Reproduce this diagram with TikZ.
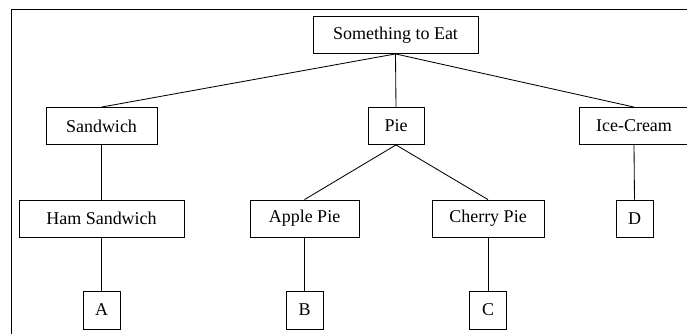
\documentclass[tikz,border=0pt]{standalone}
\usepackage{fontspec}
\setmainfont{Liberation Serif}
\newfontfamily\itemfont{Liberation Serif}
\tikzset{
    item/.style={draw, line width=0.6pt, minimum height=0.925cm, inner sep=0pt,
        font=\itemfont\fontsize{12.8}{15}\selectfont},
    link/.style={line width=0.6pt}
}
\begin{document}
\begin{tikzpicture}
    \useasboundingbox (0,0) rectangle (17.175,-8.35);
    \draw [line width=0.6pt] (17.6,-0.2375) -- (0.275,-0.2375) -- (0.275,-8.8);

    \node [item, minimum width=4.125cm] (eat) at (9.8875,-0.875) {Something to Eat};
    \node [item, minimum width=2.775cm] (sandwich) at (2.5375,-3.15) {Sandwich};
    \node [item, minimum width=1.4cm] (pie) at (9.9,-3.15) {Pie};
    \node [item, minimum width=2.75cm] (icecream) at (15.85,-3.15) {Ice-Cream};
    \node [item, minimum width=4.125cm] (ham) at (2.5375,-5.4625) {Ham Sandwich};
    \node [item, minimum width=2.725cm] (apple) at (7.6125,-5.4625) {Apple Pie};
    \node [item, minimum width=2.8cm] (cherry) at (12.2,-5.4625) {Cherry Pie};
    \node [item, minimum width=0.925cm] (d) at (15.8625,-5.4625) {D};
    \node [item, minimum width=0.925cm, minimum height=0.95cm] (a) at (2.5375,-7.75) {A};
    \node [item, minimum width=0.925cm, minimum height=0.95cm] (b) at (7.6125,-7.75) {B};
    \node [item, minimum width=0.925cm, minimum height=0.95cm] (c) at (12.2,-7.75) {C};

    \draw [link] (eat.south) -- (sandwich.north);
    \draw [link] (eat.south) -- (pie.north);
    \draw [link] (eat.south) -- (icecream.north);
    \draw [link] (sandwich.south) -- (ham.north);
    \draw [link] (pie.south) -- (apple.north);
    \draw [link] (pie.south) -- (cherry.north);
    \draw [link] (icecream.south) -- (d.north);
    \draw [link] (ham.south) -- (a.north);
    \draw [link] (apple.south) -- (b.north);
    \draw [link] (cherry.south) -- (c.north);

\end{tikzpicture}
\end{document}
